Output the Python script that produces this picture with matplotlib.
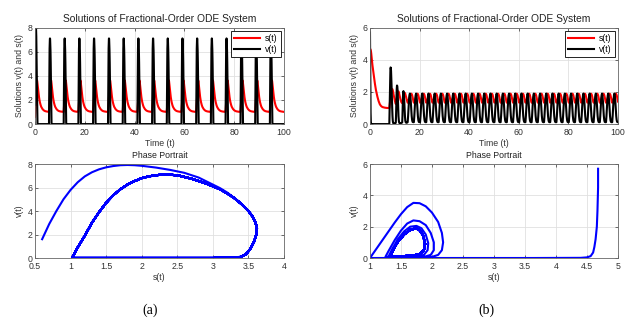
import numpy as np
import matplotlib
matplotlib.use("Agg")
from matplotlib import pyplot as plt
from matplotlib.ticker import FormatStrFormatter, MultipleLocator

plt.rcParams['font.family'] = ['Liberation Sans', 'DejaVu Sans']

#----------------------- panel (a) data -----------------------#
# start-up transient: first spike, then s decays with v = 0
a_t0 = [0.00, 0.03, 0.06, 0.09, 0.12, 0.15, 0.18, 0.21, 0.24, 0.27, 0.30, 0.33, 0.36, 0.39, 0.42,
        0.45, 0.48, 0.51, 0.54, 0.57, 0.60, 0.63, 0.66, 0.69, 0.72, 0.75, 0.78, 0.81, 0.84, 0.87,
        0.90, 0.93, 0.96, 0.99,
        1.2, 1.4, 1.6, 1.8, 2.0, 2.25, 2.5, 3.0, 3.5, 4.0, 4.5, 5.0, 5.4]
a_s0 = [0.6, 0.7, 0.8, 0.9, 1.0, 1.1, 1.2, 1.3, 1.4, 1.5, 1.6, 1.7, 1.8, 1.9, 2.0,
        2.2, 2.4, 2.6, 2.8, 3.0, 3.1, 3.2, 3.3, 3.4, 3.5, 3.56, 3.6, 3.62, 3.61, 3.58,
        3.53, 3.47, 3.4, 3.3,
        3.0, 2.6, 2.25, 1.98, 1.78, 1.58, 1.43, 1.25, 1.14, 1.08, 1.05, 1.03, 1.02]
a_v0 = [1.6, 2.9, 4.0, 5.0, 5.8, 6.45, 6.95, 7.3, 7.55, 7.72, 7.83, 7.9, 7.92, 7.9, 7.85,
        7.7, 7.5, 7.25, 6.85, 6.25, 5.95, 5.58, 5.12, 4.62, 4.02, 3.52, 3.02, 2.52, 2.02, 1.42,
        0.82, 0.37, 0.12, 0.03,
        0, 0, 0, 0, 0, 0, 0, 0, 0, 0, 0, 0, 0]

# one spike cycle (time offsets from the start of the spike)
a_cyc_dt = [0.00, 0.03, 0.06, 0.09, 0.12, 0.15, 0.18, 0.21, 0.24, 0.27, 0.30, 0.33, 0.36, 0.39,
            0.42, 0.45, 0.48, 0.51, 0.54, 0.57, 0.60, 0.63, 0.66, 0.69, 0.72, 0.75, 0.78, 0.81,
            0.84, 0.87, 0.90, 0.93, 0.96, 0.99, 1.02,
            1.2, 1.4, 1.6, 1.8, 2.0, 2.25, 2.5, 3.0, 3.5, 4.0, 4.5, 5.0, 5.4]
a_cyc_s = [1.02, 1.1, 1.2, 1.3, 1.4, 1.5, 1.6, 1.7, 1.8, 1.9, 2.0, 2.1, 2.2, 2.3,
           2.4, 2.5, 2.6, 2.7, 2.8, 2.9, 3.0, 3.1, 3.2, 3.3, 3.4, 3.5, 3.56, 3.6,
           3.62, 3.61, 3.58, 3.53, 3.47, 3.4, 3.3,
           3.0, 2.6, 2.25, 1.98, 1.78, 1.58, 1.43, 1.25, 1.14, 1.08, 1.05, 1.03, 1.02]
a_cyc_v = [0.0, 0.9, 1.9, 3.0, 3.9, 4.7, 5.35, 5.85, 6.25, 6.55, 6.8, 6.95, 7.05, 7.1,
           7.08, 7.05, 6.9, 6.75, 6.55, 6.35, 6.1, 5.85, 5.5, 5.1, 4.6, 4.0, 3.5, 3.0,
           2.5, 2.0, 1.4, 0.8, 0.35, 0.1, 0.02,
           0, 0, 0, 0, 0, 0, 0, 0, 0, 0, 0, 0, 0]

# times of the v(t) spikes
a_peaks = [6.0, 11.9, 17.8, 23.7, 29.7, 35.6, 41.5, 47.4, 53.3, 59.2, 65.1, 71.0, 76.9, 82.9, 88.8, 94.7]

#----------------------- panel (b) data -----------------------#
# transient: decay from the initial state, then the first three (larger) loops
b_t0 = [0.0, 0.05, 0.1, 0.15, 0.2, 0.25, 0.3, 0.35, 0.42,
        0.5, 0.8, 1.0, 1.3, 1.6, 2.0, 2.4, 2.7, 3.0, 3.5, 4.0, 4.5, 5.0, 6.0, 7.0,
        7.8, 7.87, 7.94, 8.01, 8.08, 8.15, 8.22, 8.3, 8.4, 8.5, 8.6, 8.72, 8.84, 8.96, 9.08,
        9.2, 9.35, 9.5, 9.7, 9.9, 10.1, 10.3,
        10.4, 10.5, 10.6, 10.7, 10.8, 10.9, 11.02, 11.14, 11.26, 11.38, 11.5, 11.65, 11.8,
        12.05, 12.35, 12.7,
        13.0, 13.1, 13.2, 13.3, 13.4, 13.5, 13.65, 13.8, 13.95, 14.1, 14.25, 14.45, 14.75, 15.05]
b_s0 = [4.68, 4.68, 4.67, 4.66, 4.64, 4.62, 4.6, 4.56, 4.5,
        4.4, 3.95, 3.65, 3.3, 2.9, 2.5, 2.12, 1.9, 1.7, 1.42, 1.22, 1.12, 1.06, 1.02, 1.0,
        1.0, 1.1, 1.2, 1.3, 1.4, 1.5, 1.6, 1.7, 1.8, 1.9, 2.0, 2.1, 2.16, 2.18, 2.16,
        2.1, 2.0, 1.85, 1.7, 1.55, 1.4, 1.3,
        1.25, 1.3, 1.4, 1.5, 1.6, 1.7, 1.8, 1.9, 1.98, 2.03, 2.03, 1.98, 1.88,
        1.7, 1.5, 1.35,
        1.3, 1.35, 1.45, 1.55, 1.65, 1.75, 1.83, 1.9, 1.94, 1.93, 1.87, 1.75, 1.55, 1.4]
b_v0 = [5.7, 4.5, 3.0, 2.0, 1.2, 0.7, 0.35, 0.12, 0.04,
        0.01, 0, 0, 0, 0, 0, 0, 0, 0, 0, 0, 0, 0, 0, 0,
        0, 0.57, 1.14, 1.7, 2.27, 2.8, 3.25, 3.52, 3.5, 3.3, 2.9, 2.3, 1.6, 1.0, 0.5,
        0.2, 0.07, 0.04, 0.03, 0.04, 0.05, 0.07,
        0.08, 0.45, 1.15, 1.75, 2.2, 2.4, 2.35, 2.1, 1.6, 1.0, 0.5, 0.2, 0.08,
        0.05, 0.05, 0.08,
        0.1, 0.5, 1.2, 1.7, 2.0, 2.05, 1.9, 1.5, 0.95, 0.5, 0.2, 0.1, 0.08, 0.1]

# one oscillation on the limit cycle (time offsets from the cycle start)
b_cyc_dt = [0.0, 0.18, 0.36, 0.54, 0.72, 0.9, 1.08, 1.26, 1.44, 1.62, 1.8, 1.98, 2.16, 2.34]
b_cyc_s = [1.33, 1.37, 1.45, 1.55, 1.65, 1.74, 1.81, 1.86, 1.89, 1.87, 1.8, 1.68, 1.52, 1.4]
b_cyc_v = [0.12, 0.5, 1.05, 1.5, 1.8, 1.9, 1.75, 1.4, 0.9, 0.5, 0.25, 0.14, 0.12, 0.12]

# peak times of v(t) on the limit cycle
b_peaks = [16.1, 18.6, 21.1, 23.6, 26.1, 28.6, 31.1, 33.6, 36.1, 38.6, 41.1, 43.6, 46.1, 48.6,
           51.1, 53.6, 56.1, 58.6, 61.1, 63.6, 66.1, 68.6, 71.1, 73.6, 76.1, 78.6, 81.1, 83.6,
           86.1, 88.6, 91.1, 93.6, 96.1, 98.6]


def build(t0, s0, v0, dt, cs, cv, peaks):
    # transient followed by the repeated cycle placed at each peak time
    t, s, v = list(t0), list(s0), list(v0)
    shift = dt[int(np.argmax(cv))]
    for p in peaks:
        t += [p - shift + d for d in dt]
        s += list(cs)
        v += list(cv)
    return np.array(t), np.array(s), np.array(v)


ta, sa, va = build(a_t0, a_s0, a_v0, a_cyc_dt, a_cyc_s, a_cyc_v, a_peaks)
tb, sb, vb = build(b_t0, b_s0, b_v0, b_cyc_dt, b_cyc_s, b_cyc_v, b_peaks)

FS = 6.3


def style(ax):
    ax.grid(True, color='#e0e0e0', lw=0.6)
    ax.set_axisbelow(True)
    for sp in ax.spines.values():
        sp.set_color('#666666')
        sp.set_linewidth(0.6)
    ax.tick_params(direction='in', length=2.5, width=0.5, labelsize=FS, colors='#333333',
                   top=True, right=True, pad=2)
    ax.tick_params(axis='x', pad=3)
    ax.xaxis.set_major_formatter(FormatStrFormatter('%g'))
    ax.yaxis.set_major_formatter(FormatStrFormatter('%g'))


fig = plt.figure(figsize=(6.39, 3.24), dpi=100)

ax1 = fig.add_axes([0.0548, 0.617, 0.3897, 0.298])
ax2 = fig.add_axes([0.579, 0.617, 0.388, 0.298])
ax3 = fig.add_axes([0.0548, 0.2037, 0.3897, 0.290])
ax4 = fig.add_axes([0.579, 0.2037, 0.388, 0.290])

for ax, t, s, v, ymax in [(ax1, ta, sa, va, 8), (ax2, tb, sb, vb, 6)]:
    ax.plot(t, s, color='#ff0000', lw=1.5, label='s(t)')
    ax.plot(t, v, color='black', lw=1.5, label='v(t)')
    ax.set_xlim(0, 100)
    ax.set_ylim(0, ymax)
    ax.xaxis.set_major_locator(MultipleLocator(20))
    ax.yaxis.set_major_locator(MultipleLocator(2))
    style(ax)
    ax.set_title('Solutions of Fractional-Order ODE System', fontsize=7.4, pad=4, color='#222222')
    ax.set_xlabel('Time (t)', fontsize=FS, labelpad=1.5, color='#333333')
    ax.set_ylabel('Solutions v(t) and s(t)', fontsize=FS, labelpad=2, color='#333333')
    leg = ax.legend(loc='upper right', fontsize=FS, fancybox=False, framealpha=1,
                    edgecolor='black', borderaxespad=0.35, handlelength=3.0,
                    borderpad=0.35, labelspacing=0.25, handletextpad=0.6)
    leg.get_frame().set_linewidth(0.6)

ax3.plot(sa, va, color='#0000ff', lw=1.5)
ax3.set_xlim(0.5, 4)
ax3.set_ylim(0, 8)
ax3.xaxis.set_major_locator(MultipleLocator(0.5))
ax3.yaxis.set_major_locator(MultipleLocator(2))

ax4.plot(sb, vb, color='#0000ff', lw=1.5)
ax4.set_xlim(1, 5)
ax4.set_ylim(0, 6)
ax4.xaxis.set_major_locator(MultipleLocator(0.5))
ax4.yaxis.set_major_locator(MultipleLocator(2))

for ax in (ax3, ax4):
    style(ax)
    ax.set_title('Phase Portrait', fontsize=FS, pad=4, color='#222222')
    ax.set_xlabel('s(t)', fontsize=FS, labelpad=1.5, color='#333333')
    ax.set_ylabel('v(t)', fontsize=FS, labelpad=2, color='#333333')

fig.text(150 / 639, 1 - 310 / 324, '(a)', family='Liberation Serif', fontsize=10,
         ha='center', va='center')
fig.text(486 / 639, 1 - 310 / 324, '(b)', family='Liberation Serif', fontsize=10,
         ha='center', va='center')

fig.savefig('out.png', dpi=100)
